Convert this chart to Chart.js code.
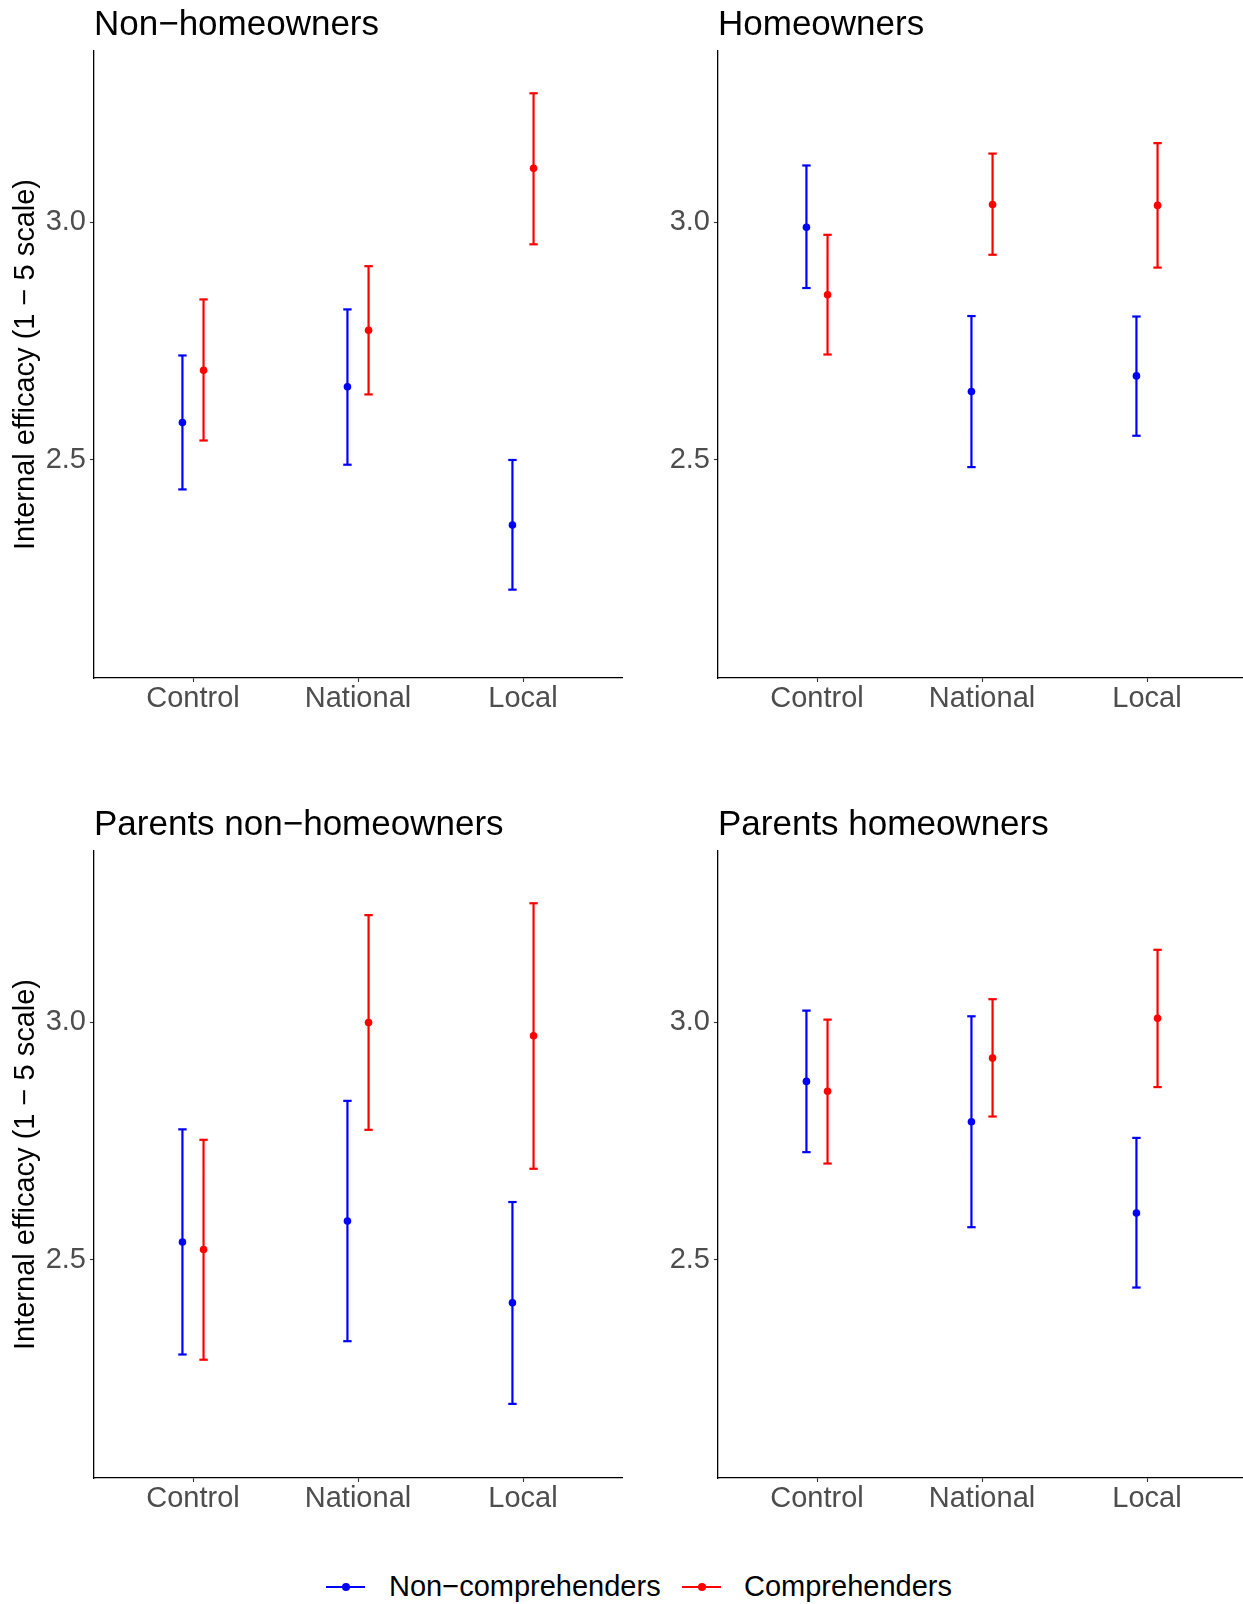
<!DOCTYPE html>
<html>
<head>
<meta charset="utf-8">
<script src="https://cdn.jsdelivr.net/npm/chart.js@4.4.1/dist/chart.umd.min.js"></script>
<style>
  html, body { margin: 0; padding: 0; background: #ffffff; overflow: hidden; }
  #page { position: relative; width: 1243px; height: 1604px; overflow: hidden; background: #ffffff; }
  canvas.panel { position: absolute; }
  .ptitle {
    position: absolute; font-family: "Liberation Sans", Arial, sans-serif;
    font-size: 35px; line-height: 35px; color: #000000; white-space: nowrap;
  }
  .leg-text {
    position: absolute; font-family: "Liberation Sans", Arial, sans-serif;
    font-size: 29px; line-height: 29px; color: #000000; white-space: nowrap;
  }
  .leg-line { position: absolute; height: 2px; }
  .leg-dot { position: absolute; width: 8px; height: 8px; border-radius: 50%; }
</style>
</head>
<body>
<div id="page"></div>
<script>
// Treatment conditions on the x axis
const categories = ['Control', 'National', 'Local'];
// Facet titles, in reading order (top-left, top-right, bottom-left, bottom-right)
const panelTitles = ['Non\u2212homeowners', 'Homeowners', 'Parents non\u2212homeowners', 'Parents homeowners'];
const seriesNames = ['Non\u2212comprehenders', 'Comprehenders'];
const yTickValues = [2.5, 3.0];
const yLimits = [2.04, 3.36];

// Mean internal efficacy and 95% interval, one row per facet, one value per condition
const nonCompMean = [[2.578, 2.653, 2.362], [2.989, 2.643, 2.676], [2.537, 2.581, 2.409], [2.875, 2.790, 2.598]];
const nonCompLow  = [[2.437, 2.489, 2.226], [2.861, 2.484, 2.550], [2.300, 2.328, 2.196], [2.726, 2.568, 2.441]];
const nonCompHigh = [[2.719, 2.816, 2.499], [3.119, 2.802, 2.801], [2.774, 2.834, 2.621], [3.024, 3.012, 2.756]];
const compMean    = [[2.688, 2.772, 3.113], [2.847, 3.037, 3.035], [2.521, 2.999, 2.971], [2.854, 2.924, 3.008]];
const compLow     = [[2.540, 2.637, 2.953], [2.721, 2.931, 2.904], [2.289, 2.773, 2.691], [2.702, 2.801, 2.863]];
const compHigh    = [[2.837, 2.907, 3.271], [2.973, 3.144, 3.166], [2.752, 3.225, 3.250], [3.005, 3.048, 3.152]];

const BLUE = '#0000FF';
const RED = '#FF0000';
const FONT = '"Liberation Sans", Arial, sans-serif';
const DODGE = 0.064;

const page = document.getElementById('page');

// Panel placement: canvas box and y-axis box width
const layouts = [
  { left: 0,   top: 0,   yWidth: 94, yTitle: true },
  { left: 620, top: 0,   yWidth: 98, yTitle: false },
  { left: 0,   top: 800, yWidth: 94, yTitle: true },
  { left: 620, top: 800, yWidth: 98, yTitle: false }
];
const CW = 640, CH = 722;
const AXIS_BOTTOM = 678;

function errorLine(mean, lo, hi, off) {
  const pts = [];
  mean.forEach((m, i) => {
    const x = i + 1 + off;
    pts.push({ x: x, y: lo[i] }, { x: x, y: hi[i] }, { x: x, y: null });
  });
  return pts;
}
function caps(lo, hi, off) {
  const pts = [];
  lo.forEach((v, i) => {
    pts.push({ x: i + 1 + off, y: v }, { x: i + 1 + off, y: hi[i] });
  });
  return pts;
}
function centres(mean, off) {
  return mean.map((m, i) => ({ x: i + 1 + off, y: m }));
}

function groupDatasets(mean, lo, hi, off, color) {
  return [
    { data: errorLine(mean, lo, hi, off), showLine: true, spanGaps: false,
      borderColor: color, borderWidth: 2.2, pointRadius: 0, order: 2 },
    { data: caps(lo, hi, off), pointStyle: 'line', pointRadius: 4.2,
      borderColor: color, pointBorderColor: color, borderWidth: 2.2, pointBorderWidth: 2.2, order: 1 },
    { data: centres(mean, off), pointStyle: 'circle', pointRadius: 3.8,
      backgroundColor: color, pointBackgroundColor: color, borderWidth: 0, pointBorderWidth: 0, order: 0 }
  ];
}

layouts.forEach((lay, p) => {
  const canvas = document.createElement('canvas');
  canvas.className = 'panel';
  canvas.width = CW; canvas.height = CH;
  canvas.style.left = lay.left + 'px';
  canvas.style.top = lay.top + 'px';
  canvas.style.width = CW + 'px';
  canvas.style.height = CH + 'px';
  page.appendChild(canvas);

  const chartRight = lay.left === 0 ? 622 : 626;

  new Chart(canvas.getContext('2d'), {
    type: 'scatter',
    data: {
      datasets: [
        ...groupDatasets(nonCompMean[p], nonCompLow[p], nonCompHigh[p], -DODGE, BLUE),
        ...groupDatasets(compMean[p], compLow[p], compHigh[p], DODGE, RED)
      ]
    },
    options: {
      responsive: false,
      animation: false,
      devicePixelRatio: 1,
      layout: { padding: { left: 0, top: 51, right: CW - chartRight, bottom: 0 } },
      plugins: { legend: { display: false }, tooltip: { enabled: false }, title: { display: false } },
      events: [],
      scales: {
        x: {
          type: 'linear', min: 0.4, max: 3.6,
          afterBuildTicks: (scale) => { scale.ticks = categories.map((c, i) => ({ value: i + 1 })); },
          afterFit: (scale) => { scale.height = CH - AXIS_BOTTOM; },
          ticks: {
            autoSkip: false, maxRotation: 0, minRotation: 0, padding: 2,
            color: '#4D4D4D', font: { family: FONT, size: 29, lineHeight: 1 },
            callback: (v) => categories[Math.round(v) - 1]
          },
          grid: { drawOnChartArea: false, drawTicks: true, tickLength: 4, tickColor: '#333333', tickWidth: 1.1 },
          border: { display: true, color: '#000000', width: 1.3 }
        },
        y: {
          type: 'linear', min: yLimits[0], max: yLimits[1],
          afterBuildTicks: (scale) => { scale.ticks = yTickValues.map(v => ({ value: v })); },
          afterFit: (scale) => { scale.width = lay.yWidth; },
          ticks: {
            padding: 4, color: '#4D4D4D', font: { family: FONT, size: 29, lineHeight: 1 },
            callback: (v) => v.toFixed(1)
          },
          grid: { drawOnChartArea: false, drawTicks: true, tickLength: 4, tickColor: '#333333', tickWidth: 1.1 },
          border: { display: true, color: '#000000', width: 1.3 },
          title: {
            display: lay.yTitle, text: 'Internal efficacy (1 \u2212 5 scale)', color: '#000000',
            font: { family: FONT, size: 29, lineHeight: 1 }, padding: { top: 11, bottom: 0 }
          }
        }
      }
    }
  });

  const t = document.createElement('div');
  t.className = 'ptitle';
  t.textContent = panelTitles[p];
  t.style.left = (lay.left + lay.yWidth) + 'px';
  t.style.top = (lay.top + 5) + 'px';
  page.appendChild(t);
});

// Shared legend along the bottom
const legendItems = [
  { color: BLUE, lineLeft: 326, textLeft: 389 },
  { color: RED, lineLeft: 682, textLeft: 744 }
];
legendItems.forEach((it, i) => {
  const line = document.createElement('div');
  line.className = 'leg-line';
  line.style.left = it.lineLeft + 'px';
  line.style.top = '1586px';
  line.style.width = '39px';
  line.style.background = it.color;
  page.appendChild(line);
  const dot = document.createElement('div');
  dot.className = 'leg-dot';
  dot.style.left = (it.lineLeft + 15.5) + 'px';
  dot.style.top = '1583px';
  dot.style.background = it.color;
  page.appendChild(dot);
  const txt = document.createElement('div');
  txt.className = 'leg-text';
  txt.textContent = seriesNames[i];
  txt.style.left = it.textLeft + 'px';
  txt.style.top = '1572px';
  page.appendChild(txt);
});
</script>
</body>
</html>
